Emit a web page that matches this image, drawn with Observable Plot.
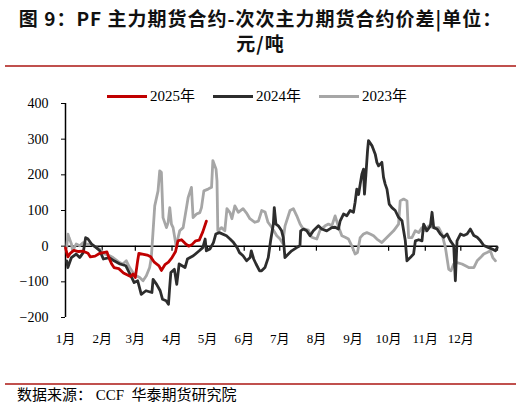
<!DOCTYPE html>
<html><head><meta charset="utf-8">
<script src="https://cdn.jsdelivr.net/npm/d3@7"></script>
<script src="https://cdn.jsdelivr.net/npm/@observablehq/plot@0.6"></script>
<style>
html,body{margin:0;padding:0;background:#fff;}
body{width:521px;height:405px;overflow:hidden;position:relative;font-family:"Liberation Serif","Noto Sans CJK SC",serif;color:#000;}
#title{position:absolute;left:0;top:5px;width:521px;text-align:center;font-family:"Noto Sans CJK SC",sans-serif;font-weight:bold;font-size:19px;letter-spacing:1px;line-height:25px;color:#111;}
.rule{position:absolute;left:5px;width:511px;height:2px;background:#c0504d;}
#chart{position:absolute;left:0;top:72px;}
#legend{position:absolute;left:107px;top:86px;display:flex;align-items:center;font-size:15px;line-height:20px;}
.item{display:flex;align-items:center;margin-right:18px;}
.swatch{width:40px;height:3px;margin-right:3px;}
#source{position:absolute;left:17px;font-size:15px;line-height:20px;}
</style></head>
<body>
<div id="title">图 9：PF 主力期货合约-次次主力期货合约价差|单位：<br>元/吨</div>
<div class="rule" style="top:65px"></div>
<div id="chart"></div>
<div id="legend"></div>
<div class="rule" style="top:383px"></div>
<div id="source" style="top:385px">数据来源：&nbsp;CCF&nbsp;&nbsp;华泰期货研究院</div>
<script>
// day offset from Jan 1, value (元/吨)
const series2025 = [[0,-5],[2,-30],[4,-20],[7,-12],[11,-15],[15,-14],[19,-20],[21,-30],[25,-28],[29,-20],[32,-18],[35,-16],[37,-35],[39,-50],[41,-60],[45,-63],[49,-75],[52,-80],[55,-85],[57,-78],[59,-88],[61,-40],[62,-20],[65,-22],[69,-25],[72,-30],[75,-45],[79,-55],[81,-68],[84,-52],[87,-45],[90,-32],[93,-15],[95,15],[98,18],[101,8],[104,0],[107,5],[110,15],[113,17],[116,40],[119,70]];

const series2024 = [[1,-41],[2,-60],[5,-32],[9,-22],[12,-32],[15,-18],[17,24],[19,20],[22,6],[26,-4],[29,-13],[32,-36],[37,-32],[41,-41],[46,-50],[51,-55],[56,-88],[58,-102],[61,-97],[64,-135],[68,-125],[73,-130],[74,-93],[77,-107],[80,-125],[82,-149],[85,-153],[87,-163],[88,-116],[89,-74],[92,-65],[94,-107],[96,-50],[101,-60],[103,-36],[108,-27],[113,-13],[116,-4],[118,20],[119,-13],[122,-8],[125,10],[127,34],[130,38],[136,29],[139,20],[142,10],[145,-4],[147,-18],[150,-27],[153,-41],[156,-32],[157,-13],[159,-36],[161,-50],[164,-69],[165.7,-69],[168.5,-60],[171.3,-32],[173.3,15],[175.6,62],[176.4,108],[177.8,62],[179.8,57],[182.6,43],[184,24],[185.4,-32],[188.3,-22],[191.1,-13],[195.3,-4],[198.1,1],[198.7,43],[201,48],[203.8,43],[206.6,29],[209.4,43],[213.7,57],[216.5,48],[220.7,43],[225,52],[227.8,53],[230.6,48],[232,70],[234.9,90],[237.7,85],[240.5,100],[243.3,95],[244.7,123],[246.1,160],[247.6,145],[249,174],[250.4,202],[251.8,216],[252.6,146],[253.8,200],[255.2,268],[256,296],[258.9,282],[261.7,258],[263.1,235],[264.5,225],[267.3,235],[268.7,193],[270.1,174],[271.6,160],[273.5,118],[275.8,108],[278.6,100],[281.4,81],[284.3,71],[285.7,43],[287.1,15],[288.5,-41],[291.3,-32],[294.1,-22],[295.6,15],[298.4,18],[301.2,15],[302.6,62],[305.4,43],[308.3,57],[309.7,95],[311.1,52],[313.9,48],[316.7,34],[319.6,25],[322.4,34],[325.2,15],[328,2],[329.4,-97],[330.8,15],[333.7,34],[336.5,30],[339.3,34],[342.1,48],[345,30],[347.8,25],[350.6,15],[353.4,2],[357.6,-4],[360.5,-8],[363.3,-13],[364.7,-4]];

const series2023 = [[1,-4],[2,34],[3,24],[5,6],[6,-13],[9,6],[12,1],[15,10],[17.5,6],[21.7,6],[26,-4],[28.8,-8],[33,-22],[37.3,-27],[40.1,-32],[45.7,-46],[48.5,-50],[51.4,-41],[54.2,-60],[57,-74],[59.8,-83],[62.7,-88],[65.5,-97],[68.3,-83],[71.1,-60],[72.5,-32],[74,43],[75.4,113],[78.2,155],[79.6,211],[81,207],[82.4,80],[85.3,52],[86.7,66],[88.1,108],[89.5,62],[90.9,52],[92.3,24],[93.7,-4],[95.1,24],[96.5,43],[99.4,52],[102.2,108],[103.6,136],[106.4,165],[107.8,80],[110.7,90],[113.5,94],[114.9,108],[116.9,155],[120.5,160],[123.4,165],[124.5,240],[127.2,216],[128,183],[128.7,43],[131.8,52],[134.6,43],[136.4,105],[139,94],[140.6,77],[143.1,113],[146,95],[150,105],[153.3,91],[155.8,77],[160,67],[163,70],[165.8,100],[168.6,96],[171.1,67],[174.2,53],[178.5,29],[181.3,20],[183.5,8],[185.5,57],[189.7,100],[192.5,105],[195.4,85],[198.2,62],[200.7,49],[205.2,45],[208.1,25],[212.3,20],[215.1,45],[219.4,57],[222.2,62],[225,57],[227.8,85],[230.6,55],[233.5,29],[236.3,25],[239.1,20],[241.9,1],[244.7,-22],[246.7,-18],[249,24],[251.8,34],[254.6,38],[257.4,34],[260.3,29],[263.1,20],[267.3,10],[271.5,24],[277.2,43],[281.4,62],[282.8,127],[285.7,132],[288.5,127],[289.9,24],[292.7,24],[295.5,43],[298.4,38],[301.2,52],[304,43],[306.8,57],[311,52],[315.3,52],[318.1,34],[321,-4],[323.8,-65],[325.7,-69],[328,-50],[330.8,-46],[335,-50],[337.9,-55],[340.7,-60],[345,-60],[347.8,-41],[350.6,-32],[353.4,-22],[356.2,-18],[359,-13],[361,-32],[363.3,-41]];

const yTicks = [-200,-100,0,100,200,300,400];
const monthStarts = [0,31,59,90,120,151,181,212,243,273,304,334];
const monthLabels = ["1月","2月","3月","4月","5月","6月","7月","8月","9月","10月","11月","12月"];
const tickDays = [31,59,90,120,151,181,212,243,273,304,334,365];
const seriesNames = ["2025年","2024年","2023年"];
const seriesColors = ["#c00000","#2d2d2d","#a6a6a6"];

const chart = Plot.plot({
  width: 521, height: 280,
  marginLeft: 65, marginRight: 24, marginTop: 31, marginBottom: 35,
  style: {fontFamily: '"Liberation Serif","Noto Sans CJK SC",serif', fontSize: "13px", color: "#000", background: "transparent"},
  x: {domain: [0, 365]},
  y: {domain: [-200, 400]},
  marks: [
    Plot.axisY({ticks: yTicks, tickSize: 4, tickPadding: 13, fontSize: 14, label: null, stroke: "#000"}),
    Plot.axisX({ticks: monthStarts, tickFormat: d => monthLabels[monthStarts.indexOf(d)], tickSize: 0, tickPadding: 16, label: null}),
    Plot.ruleX([0], {y1: -200, y2: 400, stroke: "#000", strokeWidth: 1.5}),
    Plot.ruleY([0], {stroke: "#000", strokeWidth: 1.5}),
    Plot.ruleX(tickDays, {x: d => d, y1: 0, y2: 0, insetBottom: -5, stroke: "#000", strokeWidth: 1.2}),
    Plot.line(series2023, {x: d => d[0], y: d => d[1], stroke: seriesColors[2], strokeWidth: 2.8, strokeLinejoin: "round"}),
    Plot.line(series2024, {x: d => d[0], y: d => d[1], stroke: seriesColors[1], strokeWidth: 2.8, strokeLinejoin: "round"}),
    Plot.line(series2025, {x: d => d[0], y: d => d[1], stroke: seriesColors[0], strokeWidth: 2.8, strokeLinejoin: "round"})
  ]
});
document.getElementById("chart").appendChild(chart);

const legend = document.getElementById("legend");
seriesNames.forEach((name, i) => {
  const item = document.createElement("div");
  item.className = "item";
  item.innerHTML = `<span class="swatch" style="background:${seriesColors[i]}"></span><span>${name}</span>`;
  legend.appendChild(item);
});
</script>
</body></html>
